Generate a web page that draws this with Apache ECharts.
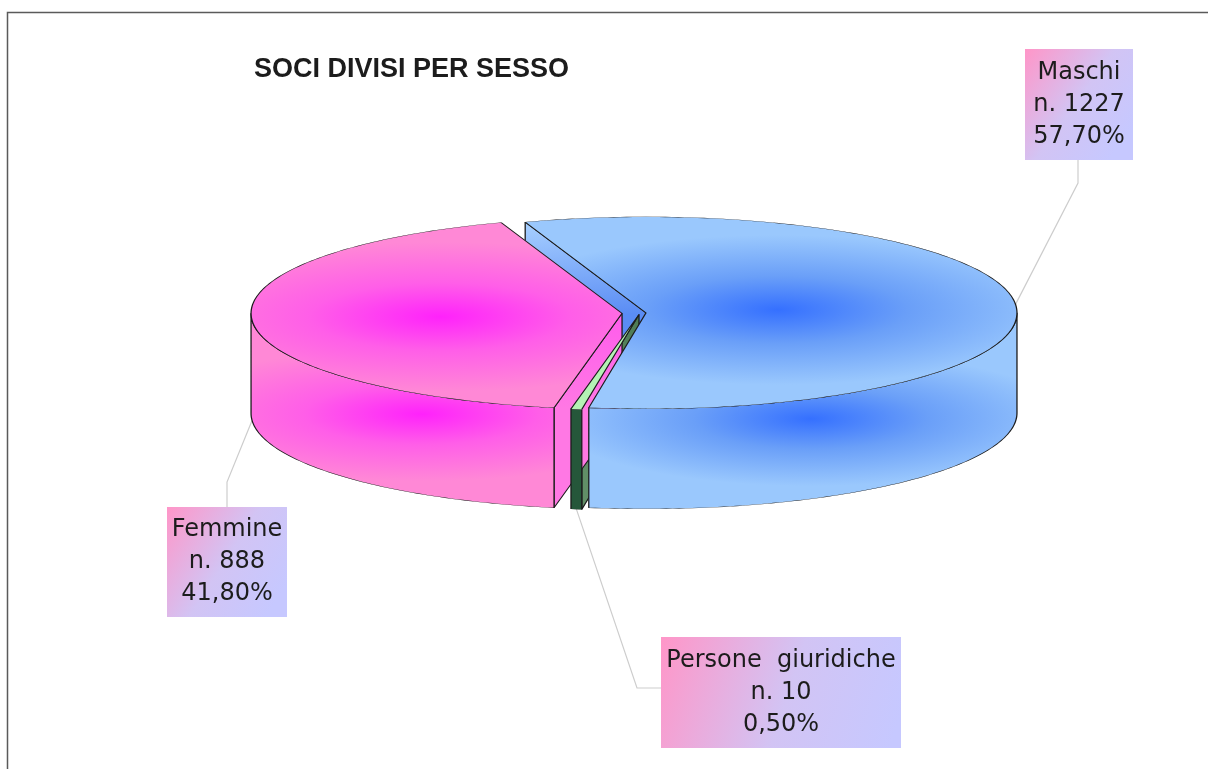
<!DOCTYPE html>
<html>
<head>
<meta charset="utf-8">
<title>Soci divisi per sesso</title>
<script src="https://cdn.jsdelivr.net/npm/echarts@6/dist/echarts.min.js"></script>
<style>
html, body { margin: 0; padding: 0; background: #fff; }
#chart { width: 1208px; height: 769px; }
</style>
</head>
<body>
<div id="chart"></div>
<script>
// dati
var categories = ['Maschi', 'Persone  giuridiche', 'Femmine'];
var counts = [1227, 10, 888];
var shares = [57.7, 0.5, 41.8];
var title = 'SOCI DIVISI PER SESSO';

// layout of the fake 3d pie (screen pixels)
var L = { cx: 640, cy: 313, rx: 371, ry: 96, depth: 100, startAngle: 109 };
var explode = [6, 6, 18];
var palette = [
	{ dark: '#3570ff', mid: '#6a9ff8', light: '#9ac8fd', cut: '#a8d0ff', cutDark: '#5a8cf4' },
	{ flat: '#b4f2b4', side: '#25573a', cut: '#618f67', cutDark: '#4d7a54' },
	{ dark: '#ff22fb', mid: '#ff5ee8', light: '#ff88d6', cut: '#ff78e4', cutDark: '#ff5cec' }
];
var labelBoxes = [
	{ x: 1025, y: 49, w: 108, h: 111, elbow: [1078, 183], end: [1078, 160] },
	{ x: 661, y: 637, w: 240, h: 111, elbow: [637, 688], end: [661, 688] },
	{ x: 167, y: 507, w: 120, h: 110, elbow: [227, 482], end: [227, 507] }
];

var k = L.ry / L.rx;
var R = L.rx;
var D = L.depth / k;

var total = counts.reduce(function(a, b){ return a + b; }, 0);
var slices = [];
var acc = L.startAngle;
for(var i=0; i<counts.length; i++){
	var span = counts[i] / total * 360;
	slices.push({ s: acc, e: acc - span, m: acc - span / 2, span: span });
	acc -= span;
}

function rad(a){ return a * Math.PI / 180; }
function pt(o, a, r, dz){
	return [o[0] + r * Math.cos(rad(a)), o[1] - r * Math.sin(rad(a)) + (dz || 0)];
}
function arc(o, a1, a2, dz){
	var n = Math.max(2, Math.ceil(Math.abs(a2 - a1)));
	var pts = [];
	for(var j=0; j<=n; j++){
		pts.push(pt(o, a1 + (a2 - a1) * j / n, R, dz));
	}
	return pts;
}
function toScreen(p){ return [p[0], L.cy + (p[1] - L.cy) * k]; }
function radial(c, r, pal){
	return new echarts.graphic.RadialGradient(c[0], c[1], r, [
		{ offset: 0, color: pal.dark },
		{ offset: 0.45, color: pal.mid },
		{ offset: 1, color: pal.light }
	], true);
}

function renderItem(params, api){
	var i = params.dataIndex;
	var sl = slices[i], pal = palette[i], box = labelBoxes[i];
	var d = explode[i];
	var o = [L.cx + d * Math.cos(rad(sl.m)), L.cy - d * Math.sin(rad(sl.m))];
	var edge = { stroke: '#1c1c1c', lineWidth: 1.3, strokeNoScale: true, lineJoin: 'round' };
	var pie = [];

	// cut faces (only those turned to the viewer)
	var walls = [];
	if(Math.cos(rad(sl.s)) < 0) walls.push(sl.s);
	if(Math.cos(rad(sl.e)) > 0) walls.push(sl.e);
	walls.forEach(function(a){
		var p1 = pt(o, a, R);
		pie.push({
			type: 'polygon', z2: 1,
			shape: { points: [o, p1, [p1[0], p1[1] + D], [o[0], o[1] + D]] },
			style: Object.assign({
				fill: new echarts.graphic.LinearGradient(p1[0], p1[1], o[0], o[1], [
					{ offset: 0, color: pal.cut }, { offset: 1, color: pal.cutDark }
				], true)
			}, edge)
		});
	});

	// outer wall, front half only
	var lo = Math.max(sl.e, -180), hi = Math.min(sl.s, 0);
	if(hi > lo){
		var wallPts = arc(o, hi, lo, 0).concat(arc(o, lo, hi, D));
		var mid = (lo + hi) / 2;
		var ca = mid + (-90 - mid) * 0.35;
		var wc = pt(o, ca, R, D * 0.2);
		pie.push({
			type: 'polygon', z2: 2,
			shape: { points: wallPts },
			style: Object.assign({
				fill: pal.flat ? pal.side : radial(wc, R * 0.7, pal)
			}, edge)
		});
	}

	// top face
	var half = rad(sl.span) / 2;
	var rc = 2 * R * Math.sin(half) / (3 * half);
	var tc = pt(o, sl.m, rc);
	pie.push({
		type: 'polygon', z2: 3,
		shape: { points: [o].concat(arc(o, sl.s, sl.e, 0)) },
		style: Object.assign({
			fill: pal.flat ? pal.flat : radial(tc, R * 0.78, pal)
		}, edge)
	});

	// label box + leader line
	var anchor = Math.sin(rad(sl.m)) < 0 ? toScreen(pt(o, sl.m, R, D)) : toScreen(pt(o, sl.m, R));
	var pct = api.value(1).toFixed(2).replace('.', ',') + '%';
	var label = [
		{
			type: 'polyline', z2: 0,
			shape: { points: [anchor, box.elbow, box.end] },
			style: { stroke: '#cdcdcd', lineWidth: 1.2, fill: null }
		},
		{
			type: 'rect', z2: 5,
			shape: { x: box.x, y: box.y, width: box.w, height: box.h },
			style: {
				fill: new echarts.graphic.LinearGradient(0, 0, 1, 0.7, [
					{ offset: 0, color: '#ff96c8' },
					{ offset: 0.55, color: '#d2c4f4' },
					{ offset: 1, color: '#c6c8ff' }
				])
			}
		},
		{
			type: 'text', z2: 6,
			style: {
				text: categories[i] + '\nn. ' + api.value(0) + '\n' + pct,
				x: box.x + box.w / 2,
				y: box.y + box.h / 2,
				align: 'center',
				verticalAlign: 'middle',
				fontFamily: 'DejaVu Sans',
				fontSize: 24,
				lineHeight: 32,
				fill: '#1c1c1c'
			}
		}
	];

	return {
		type: 'group',
		children: [
			{ type: 'group', scaleY: k, originX: 0, originY: L.cy, children: pie }
		].concat(label)
	};
}

var chart = echarts.init(document.getElementById('chart'));
chart.setOption({
	animation: false,
	backgroundColor: '#fff',
	title: {
		text: title,
		left: 249,
		top: 51,
		textStyle: {
			fontFamily: 'Liberation Sans',
			fontWeight: 'bold',
			fontSize: 27,
			color: '#1c1c1c'
		}
	},
	graphic: [
		{
			type: 'rect', z: -1,
			shape: { x: 7.5, y: 12.5, width: 1400, height: 1000 },
			style: { fill: null, stroke: '#5a5a5a', lineWidth: 1.5 }
		}
	],
	series: [
		{
			type: 'custom',
			coordinateSystem: 'none',
			renderItem: renderItem,
			data: categories.map(function(c, i){
				return { name: c, value: [counts[i], shares[i]] };
			})
		}
	]
});
</script>
</body>
</html>
